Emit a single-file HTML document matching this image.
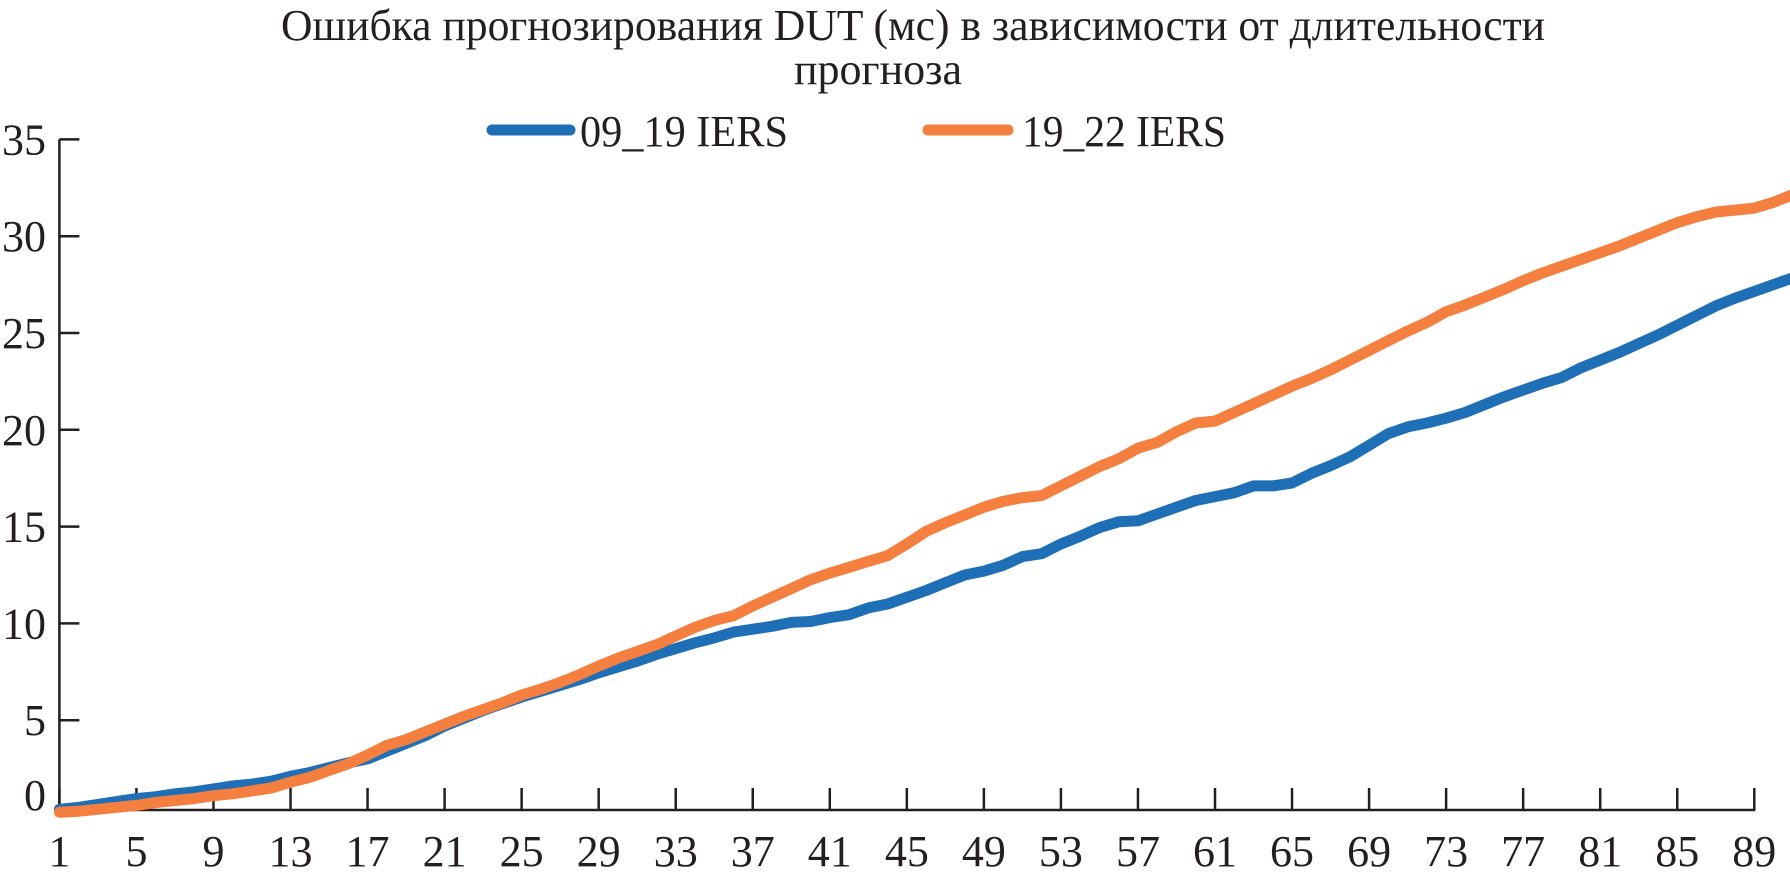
<!DOCTYPE html>
<html><head><meta charset="utf-8"><style>
html,body{margin:0;padding:0;background:#fff;}
svg{display:block;font-family:"Liberation Serif","Noto Serif CJK SC",serif;}
</style></head><body>
<svg id="chart" width="1790" height="873" viewBox="0 0 1790 873" xmlns="http://www.w3.org/2000/svg">
<text x="913" y="40" font-size="44" text-anchor="middle" textLength="1264" lengthAdjust="spacingAndGlyphs" fill="#231f20">Ошибка прогнозирования DUT (мс) в зависимости от длительности</text>
<text x="878" y="84" font-size="44" text-anchor="middle" fill="#231f20">прогноза</text>
<g>
<line x1="492" y1="130" x2="570" y2="130" stroke="#1f6fb7" stroke-width="11" stroke-linecap="round"/>
<text x="580" y="146" font-size="44" textLength="208" lengthAdjust="spacingAndGlyphs" fill="#231f20">09_19 IERS</text>
<line x1="928" y1="130" x2="1008" y2="130" stroke="#f47f3e" stroke-width="11" stroke-linecap="round"/>
<text x="1022" y="146" font-size="44" textLength="204" lengthAdjust="spacingAndGlyphs" fill="#231f20">19_22 IERS</text>
</g>
<g id="axes"></g>
<g id="series"></g>
</svg>
<script>
const categories = Array.from({length:91},(_, i)=>i+1);
const series0919 = [0.4,0.5,0.65,0.8,0.95,1.05,1.2,1.3,1.45,1.6,1.7,1.85,2.1,2.3,2.55,2.8,3.0,3.4,3.8,4.2,4.7,5.1,5.5,5.85,6.2,6.5,6.8,7.1,7.45,7.75,8.05,8.4,8.7,9.0,9.25,9.55,9.7,9.85,10.05,10.1,10.3,10.45,10.8,11.0,11.35,11.7,12.1,12.5,12.7,13.0,13.45,13.6,14.1,14.5,14.95,15.25,15.3,15.65,16.0,16.35,16.55,16.75,17.1,17.1,17.25,17.75,18.15,18.6,19.2,19.8,20.15,20.35,20.6,20.9,21.3,21.7,22.05,22.4,22.7,23.2,23.6,24.0,24.45,24.9,25.4,25.9,26.4,26.8,27.15,27.5,27.85];
const series1922 = [0.25,0.3,0.4,0.5,0.6,0.75,0.85,0.95,1.1,1.2,1.35,1.5,1.8,2.05,2.4,2.75,3.2,3.7,4.0,4.4,4.8,5.2,5.55,5.9,6.3,6.6,6.95,7.35,7.8,8.2,8.55,8.9,9.35,9.8,10.15,10.4,10.9,11.35,11.8,12.25,12.6,12.9,13.2,13.5,14.1,14.75,15.2,15.6,16.0,16.3,16.5,16.6,17.1,17.6,18.1,18.5,19.05,19.35,19.9,20.35,20.45,20.9,21.35,21.8,22.25,22.65,23.1,23.6,24.1,24.6,25.1,25.55,26.1,26.45,26.85,27.25,27.7,28.1,28.45,28.8,29.15,29.5,29.9,30.3,30.7,31.0,31.25,31.35,31.45,31.75,32.15];
const yTicks = [0,5,10,15,20,25,30,35];
const xTickLabels = [1,5,9,13,17,21,25,29,33,37,41,45,49,53,57,61,65,69,73,77,81,85,89];

const NS="http://www.w3.org/2000/svg";
const X0=59.4, DX=19.26, Y0=817, DY=19.36, BASE=810;
function xs(c){return X0+(c-1)*DX;}
function ys(v){return Y0-v*DY;}
function mk(tag,attrs,parent){const e=document.createElementNS(NS,tag);for(const k in attrs)e.setAttribute(k,attrs[k]);parent.appendChild(e);return e;}
const axes=document.getElementById('axes');
const ser=document.getElementById('series');
const ink="#231f20";

let yax=mk('line',{x1:X0,y1:ys(35),x2:X0,y2:BASE,stroke:ink,'stroke-width':2.5},axes);


let xax=mk('line',{x1:X0,y1:BASE,x2:xs(89)+1,y2:BASE,stroke:ink,'stroke-width':2.5},axes);



yTicks.forEach(v=>{
  if(v>0){
    const t=mk('line',{x1:X0,y1:ys(v),x2:X0+20,y2:ys(v),stroke:ink,'stroke-width':2.5},axes);
    
    
  }
  const ly = v===0 ? 810 : ys(v)+15;
  const l=mk('text',{x:46,y:ly,'font-size':44,'text-anchor':'end',fill:ink},axes);
  l.textContent=v;
  
  
});
xTickLabels.forEach(c=>{
  const t=mk('line',{x1:xs(c),y1:BASE,x2:xs(c),y2:BASE-22,stroke:ink,'stroke-width':2.5},axes);
  
  
  const l=mk('text',{x:xs(c),y:866,'font-size':44,'text-anchor':'middle',fill:ink},axes);
  l.textContent=c;
  
  
});
function drawLine(vals,color,name){
  const d=vals.map((v,i)=>(i?'L':'M')+xs(categories[i]).toFixed(1)+','+ys(v).toFixed(1)).join(' ');
  const p=mk('path',{d:d,fill:'none',stroke:color,'stroke-width':11,'stroke-linejoin':'round','stroke-linecap':'round'},ser);
  
  
}
drawLine(series0919,'#1f6fb7','line-09-19-iers');
drawLine(series1922,'#f47f3e','line-19-22-iers');
</script>
</body></html>
